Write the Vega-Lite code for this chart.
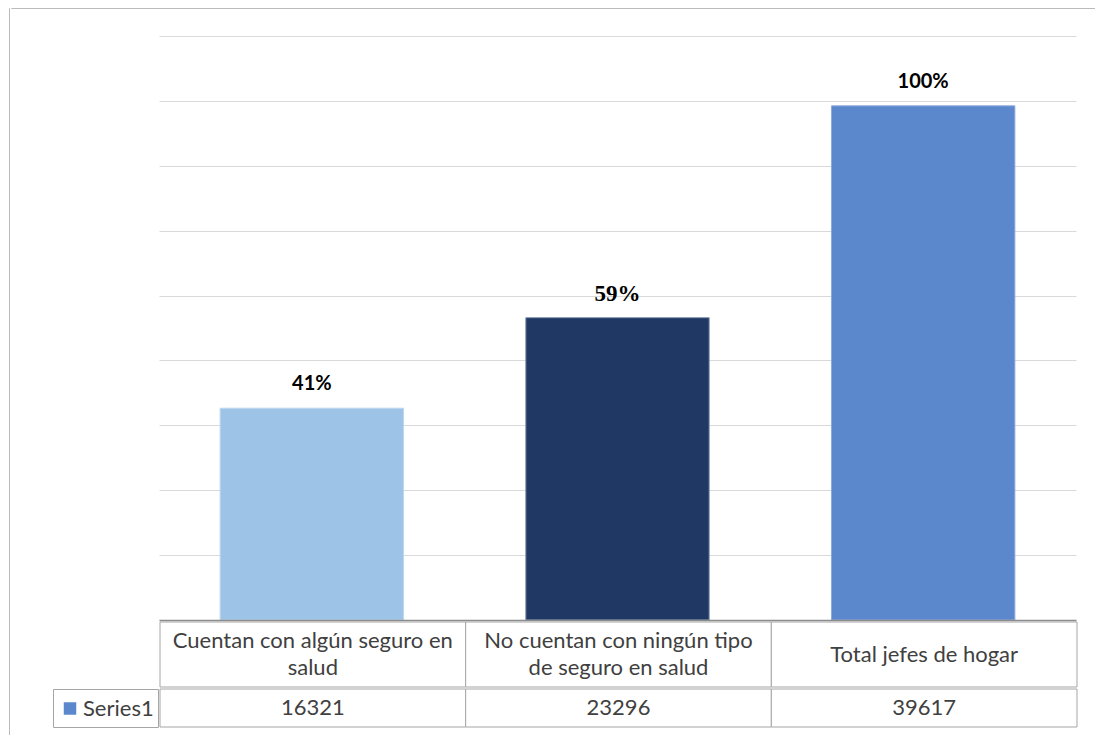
{
  "$schema": "https://vega.github.io/schema/vega-lite/v6.json",
  "padding": {"left": 8, "top": 7, "right": 0, "bottom": 0},
  "background": "white",
  "config": {"view": {"stroke": null}, "concat": {"spacing": 0}},
  "datasets": {
    "jefes": [
      {"categoria": "Cuentan con algún seguro en salud", "encabezado": "Cuentan con algún seguro en\nsalud", "jefes_hogar": 16321, "porcentaje": "41%"},
      {"categoria": "No cuentan con ningún tipo de seguro en salud", "encabezado": "No cuentan con ningún tipo\nde seguro en salud", "jefes_hogar": 23296, "porcentaje": "59%"},
      {"categoria": "Total jefes de hogar", "encabezado": "Total jefes de hogar", "jefes_hogar": 39617, "porcentaje": "100%"}
    ],
    "serie": [{"serie": "Series1"}],
    "vacio": [{}]
  },
  "spacing": 0,
  "resolve": {"scale": {"color": "independent"}, "legend": {"color": "independent"}},
  "hconcat": [
    {"width": 0.01, "height": 728, "view": {"stroke": "#bbbbbb"}, "data": {"name": "vacio"}, "mark": {"type": "text", "text": "", "fontSize": 0}},
    {
      "spacing": 27,
      "resolve": {"scale": {"color": "independent"}, "legend": {"color": "independent"}},
      "vconcat": [
        {"width": 1087, "height": 0.01, "view": {"stroke": "#bbbbbb"}, "data": {"name": "vacio"}, "mark": {"type": "text", "text": "", "fontSize": 0}},
        {
          "spacing": 40,
          "resolve": {"scale": {"color": "independent"}, "legend": {"color": "independent"}},
          "hconcat": [
            {"width": 0.01, "height": 0.01, "data": {"name": "vacio"}, "mark": {"type": "text", "text": "", "fontSize": 0}},
            {
              "spacing": 0,
              "resolve": {"scale": {"color": "independent"}, "legend": {"color": "independent"}},
              "vconcat": [
                {
                  "spacing": 105,
                  "hconcat": [
                    {"width": 0.01, "height": 584, "data": {"name": "vacio"}, "mark": {"type": "text", "text": "", "fontSize": 0}},
                    {
                      "width": 917,
                      "height": 584,
                      "data": {"name": "jefes"},
                      "encoding": {
                        "x": {"field": "categoria", "type": "nominal", "sort": null,
                          "scale": {"paddingInner": 0.4, "paddingOuter": 0.2},
                          "axis": {"labels": false, "ticks": false, "title": null, "domain": true, "domainColor": "#8c8c8c", "domainWidth": 1.5, "grid": false, "zindex": 1}}
                      },
                      "layer": [
                        {
                          "mark": {"type": "bar", "strokeWidth": 1},
                          "encoding": {
                            "y": {"field": "jefes_hogar", "type": "quantitative",
                              "scale": {"domain": [0, 45000], "nice": false},
                              "axis": {"values": [0, 5000, 10000, 15000, 20000, 25000, 30000, 35000, 40000, 45000], "labels": false, "ticks": false, "domain": false, "grid": true, "gridColor": "#d9d9d9", "gridWidth": 1, "title": null, "minExtent": 0}},
                            "fill": {"field": "categoria", "type": "nominal", "sort": null,
                              "scale": {"domain": ["Cuentan con algún seguro en salud", "No cuentan con ningún tipo de seguro en salud", "Total jefes de hogar"], "range": ["#9DC3E6", "#203864", "#5B87CC"]},
                              "legend": null},
                            "stroke": {"field": "categoria", "type": "nominal", "sort": null,
                              "scale": {"domain": ["Cuentan con algún seguro en salud", "No cuentan con ningún tipo de seguro en salud", "Total jefes de hogar"], "range": ["#BDD7EE", "#8497B0", "#8FAADC"]},
                              "legend": null}
                          }
                        },
                        {
                          "transform": [{"filter": "datum.porcentaje !== '59%'"}],
                          "mark": {"type": "text", "font": "Lato", "fontWeight": "bold", "fontSize": 20, "dy": -18, "baseline": "alphabetic", "color": "#000000"},
                          "encoding": {
                            "y": {"field": "jefes_hogar", "type": "quantitative"},
                            "text": {"field": "porcentaje"}
                          }
                        },
                        {
                          "transform": [{"filter": "datum.porcentaje === '59%'"}],
                          "mark": {"type": "text", "font": "Liberation Serif", "fontWeight": "bold", "fontSize": 23, "dy": -17, "baseline": "alphabetic", "color": "#000000"},
                          "encoding": {
                            "y": {"field": "jefes_hogar", "type": "quantitative"},
                            "text": {"field": "porcentaje"}
                          }
                        }
                      ]
                    }
                  ]
                },
                {
                  "spacing": 105,
                  "hconcat": [
                    {"width": 0.01, "height": 65, "data": {"name": "vacio"}, "mark": {"type": "text", "text": "", "fontSize": 0}},
                    {
                      "width": 917,
                      "height": 65,
                      "data": {"name": "jefes"},
                      "encoding": {
                        "x": {"field": "categoria", "type": "nominal", "sort": null, "scale": {"paddingInner": 0, "paddingOuter": 0}, "axis": null}
                      },
                      "layer": [
                        {"mark": {"type": "rect", "fill": "white", "stroke": "#a6a6a6", "strokeWidth": 1}},
                        {
                          "transform": [{"filter": "datum.categoria !== 'Total jefes de hogar'"}],
                          "mark": {"type": "text", "font": "Lato", "fontSize": 22, "lineBreak": "\n", "lineHeight": 27, "dy": -13.5, "color": "#404040", "baseline": "middle"},
                          "encoding": {"text": {"field": "encabezado"}}
                        },
                        {
                          "transform": [{"filter": "datum.categoria === 'Total jefes de hogar'"}],
                          "mark": {"type": "text", "font": "Lato", "fontSize": 22, "color": "#404040", "baseline": "middle"},
                          "encoding": {"text": {"field": "encabezado"}}
                        }
                      ]
                    }
                  ]
                },
                {
                  "spacing": 0,
                  "resolve": {"scale": {"color": "independent"}, "legend": {"color": "independent"}},
                  "hconcat": [
                    {
                      "width": 105,
                      "height": 38,
                      "view": {"stroke": "#a6a6a6"},
                      "data": {"name": "serie"},
                      "mark": {"type": "point", "shape": "square", "filled": true, "opacity": 0},
                      "encoding": {
                        "color": {"field": "serie", "type": "nominal",
                          "scale": {"range": ["#5B87CC"]},
                          "legend": {"orient": "none", "legendX": 6, "legendY": 8.5, "padding": 0, "title": null, "symbolType": "square", "symbolSize": 156, "symbolOpacity": 1, "symbolStrokeWidth": 0, "symbolFillColor": "#5B87CC", "labelFont": "Lato", "labelFontSize": 22, "labelColor": "#404040", "labelOffset": 2}}
                      }
                    },
                    {
                      "width": 917,
                      "height": 38,
                      "data": {"name": "jefes"},
                      "encoding": {
                        "x": {"field": "categoria", "type": "nominal", "sort": null, "scale": {"paddingInner": 0, "paddingOuter": 0}, "axis": null}
                      },
                      "layer": [
                        {"mark": {"type": "rect", "fill": "white", "stroke": "#a6a6a6", "strokeWidth": 1}},
                        {
                          "mark": {"type": "text", "font": "Lato", "fontSize": 22, "color": "#404040", "baseline": "middle"},
                          "encoding": {"text": {"field": "jefes_hogar", "type": "quantitative", "format": "d"}}
                        }
                      ]
                    }
                  ]
                }
              ]
            }
          ]
        }
      ]
    }
  ]
}
